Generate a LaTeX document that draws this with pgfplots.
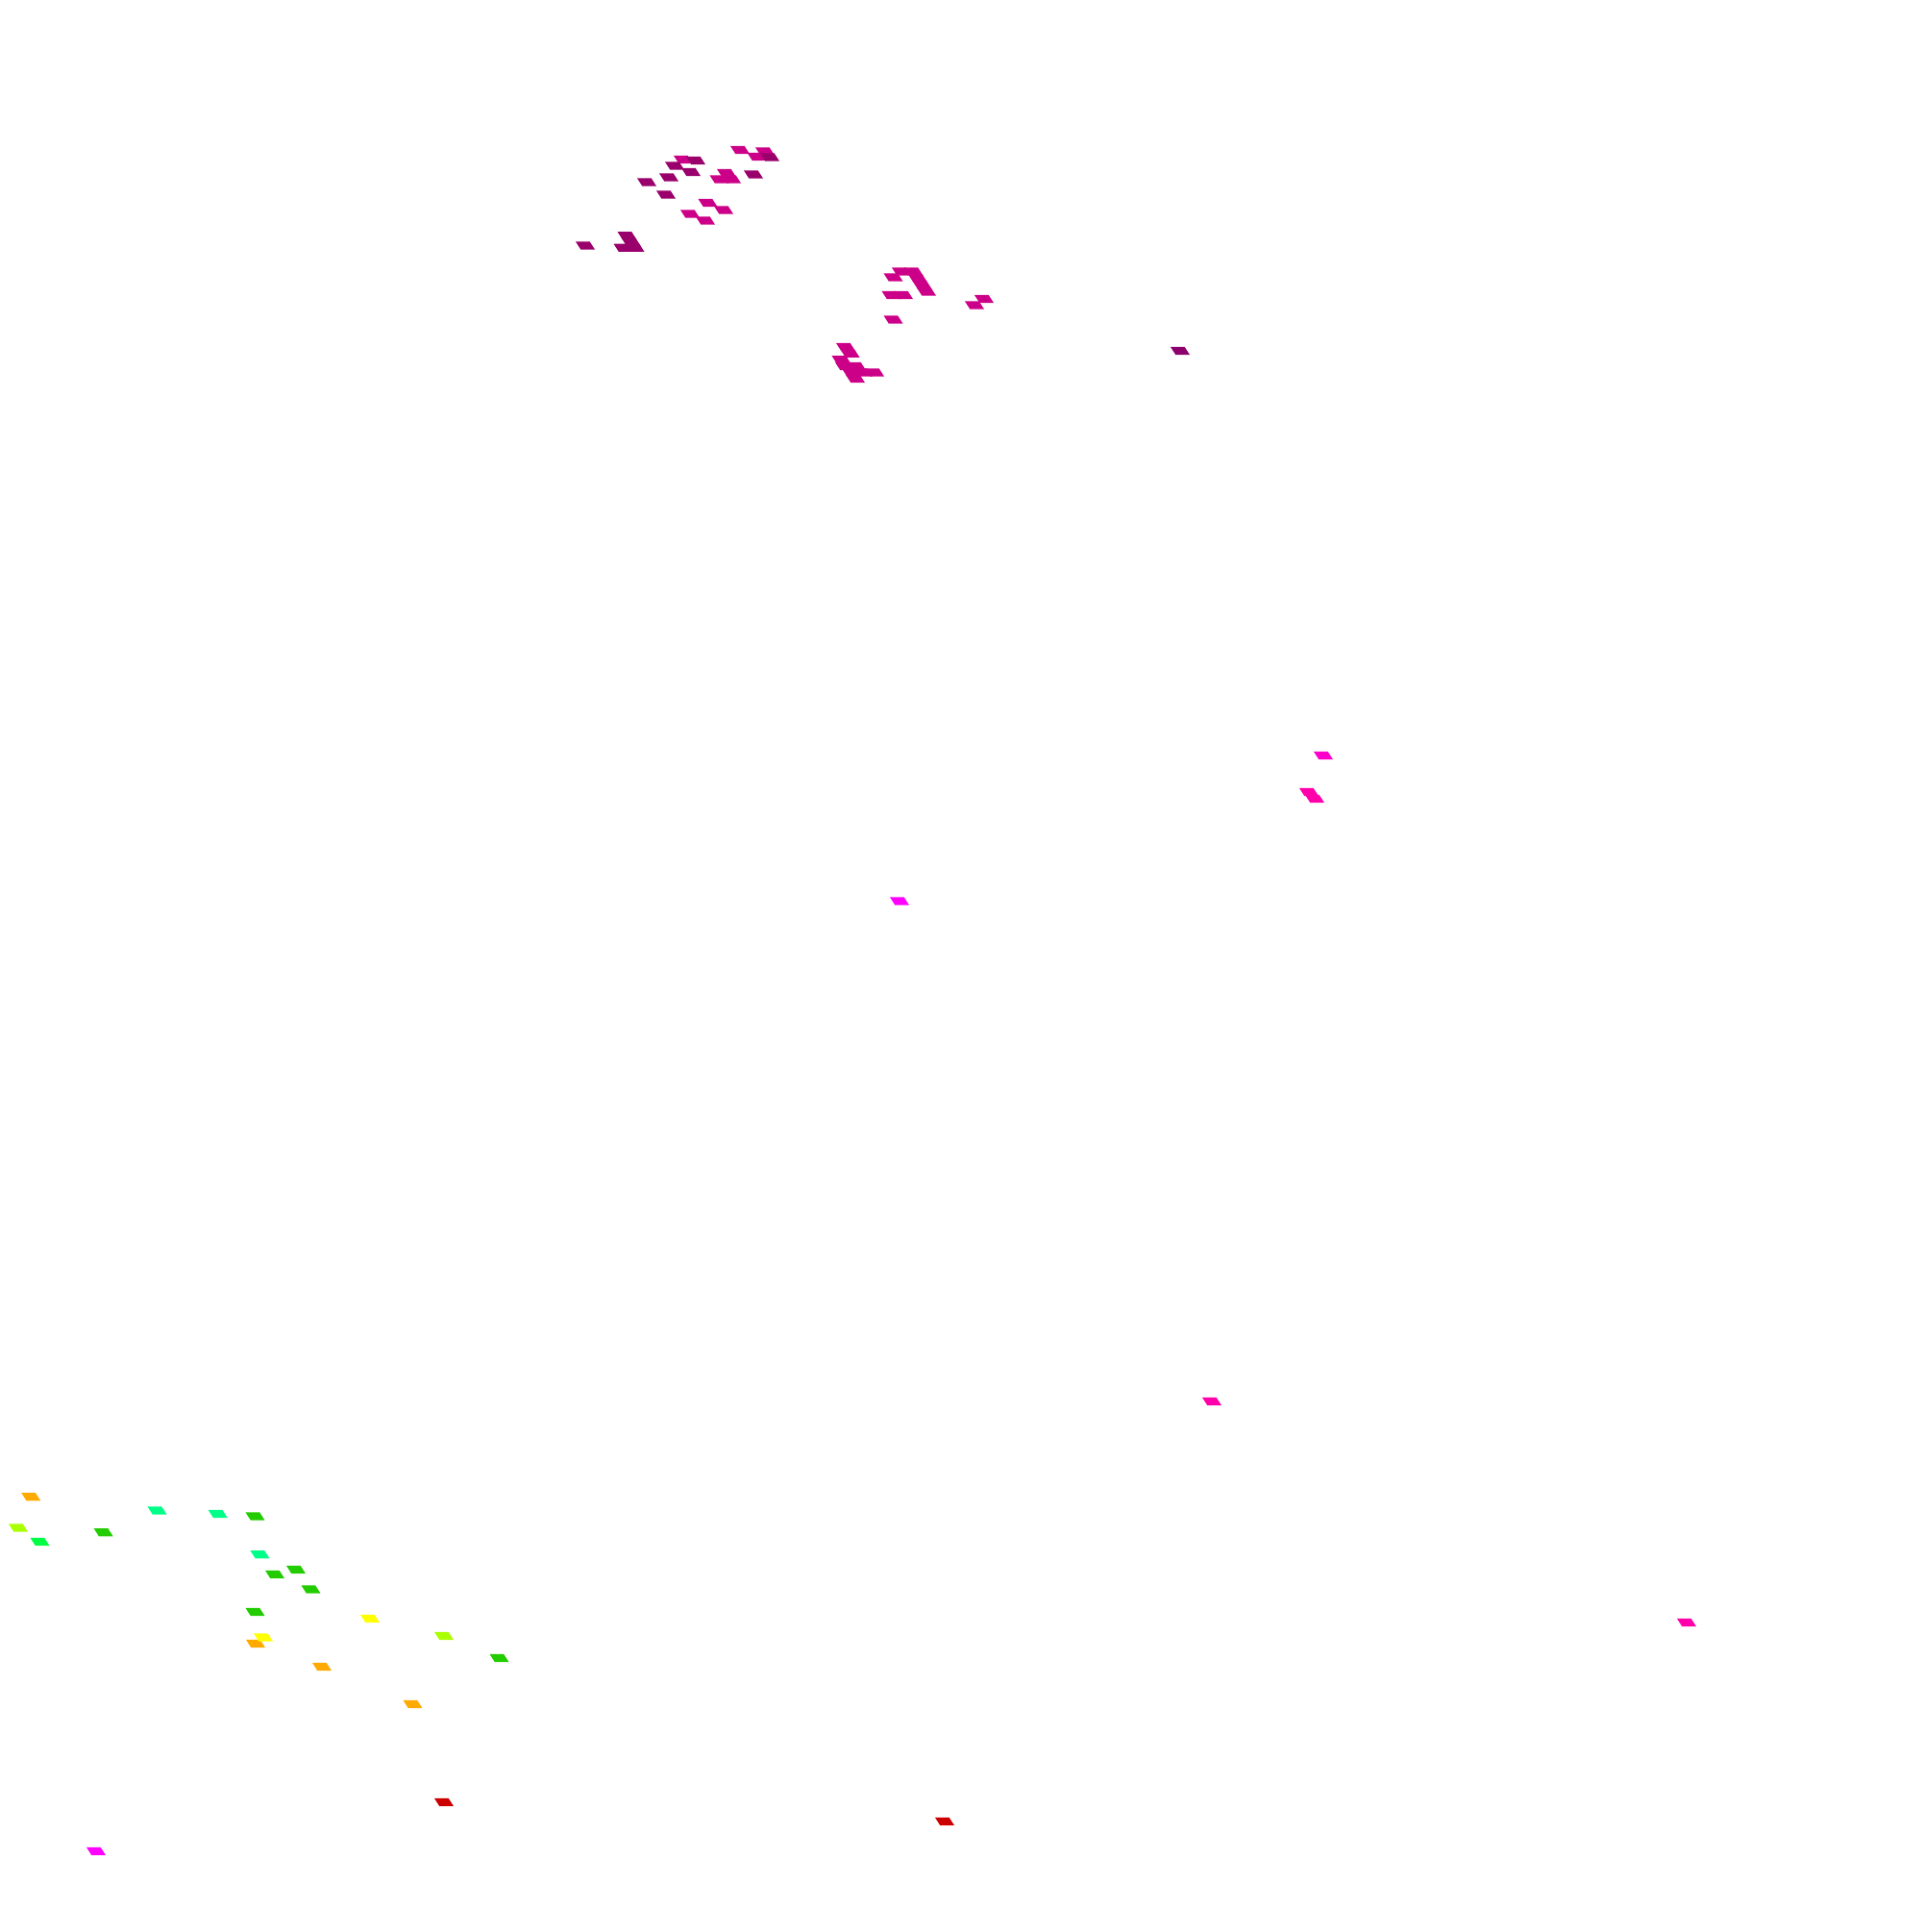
\documentclass[border=0pt]{standalone}
\usepackage{pgfplots}
\pgfplotsset{compat=1.18}

\definecolor{cBr}{HTML}{CC0088}
\definecolor{cDk}{HTML}{99006B}
\definecolor{cPu}{HTML}{8C006E}
\definecolor{cPk}{HTML}{FF00AA}
\definecolor{cPc}{HTML}{FF00CC}
\definecolor{cMg}{HTML}{FF00FF}
\definecolor{cRd}{HTML}{CC0000}
\definecolor{cOr}{HTML}{FFAA00}
\definecolor{cYe}{HTML}{FFFF00}
\definecolor{cYg}{HTML}{AAFF00}
\definecolor{cGr}{HTML}{22CC00}
\definecolor{cSp}{HTML}{00FF44}
\definecolor{cMi}{HTML}{00FF88}

% one surface cell seen in perspective: a sheared quad
\pgfdeclareplotmark{para}{%
  \pgfpathmoveto{\pgfpoint{-\pgfplotmarksize}{0.412\pgfplotmarksize}}%
  \pgfpathlineto{\pgfpoint{0.47\pgfplotmarksize}{0.412\pgfplotmarksize}}%
  \pgfpathlineto{\pgfpoint{\pgfplotmarksize}{-0.412\pgfplotmarksize}}%
  \pgfpathlineto{\pgfpoint{-0.47\pgfplotmarksize}{-0.412\pgfplotmarksize}}%
  \pgfpathclose
  \pgfusepathqfill}

\pgfplotsset{
  cells/.style={scatter, only marks, mark=para,
    visualization depends on={1.7*\thisrow{s} \as \ms},
    scatter/@pre marker code/.append style={/tikz/mark size=\ms},
    scatter/use mapped color={draw=none, fill=#1}},
}

\begin{document}
\begin{tikzpicture}
\begin{axis}[
    width=400pt, height=402pt, scale only axis,
    hide axis,
    xmin=0, xmax=2000, ymin=0, ymax=2010,
    y dir=reverse,
    ]
    \path (rel axis cs:0,0) rectangle (rel axis cs:1,1);

    % top cluster, bright cells
    \addplot[cells=cBr] table[row sep=\\] {
        x y s \\
        770 156 0.95 \\ 796 157.5 0.95 \\ 787.5 163 0.95 \\ 711 166 0.95 \\
        756 180 0.95 \\ 748.5 186.5 0.95 \\ 761 186.5 0.95 \\
        736.5 211 0.95 \\ 753 218.5 0.95 \\ 718 222.5 0.95 \\ 734 229.5 0.95 \\
    };
    % top cluster, dark cells
    \addplot[cells=cDk] table[row sep=\\] {
        x y s \\
        801 163.5 0.95 \\ 724 167 0.95 \\ 702 172.5 0.95 \\ 719 179 0.95 \\
        784 181.5 0.95 \\ 696 184.5 0.95 \\ 673 189.5 0.95 \\ 693 202.5 0.95 \\
        609 255.5 0.95 \\ 652.5 245.2 0.95 \\ 656.5 251.5 0.95 \\
        660.5 257.8 0.95 \\ 648.5 257.8 0.95 \\
    };
    % middle cluster
    \addplot[cells=cBr] table[row sep=\\] {
        x y s \\
        929.5 288.5 1 \\ 938 282.5 1 \\ 950.5 282.5 1 \\ 955 289.5 1 \\
        959.5 296.5 1 \\ 964 303.5 1 \\ 927.5 307 1 \\ 940 307 1 \\
        929.5 332.5 1 \\ 1024 311 1 \\ 1014 317.5 1 \\
        880 361 1 \\ 884.5 367.7 1 \\ 875.5 374.3 1 \\ 879 381 1 \\ 891 381 1 \\
        886 387.5 1 \\ 898 387.5 1 \\ 910 387.5 1 \\ 890 394 1 \\
    };
    \addplot[cells=cPu] table[row sep=\\] {
        x y s \\
        1228 365 1.03 \\
    };
    \addplot[cells=cPc] table[row sep=\\] {
        x y s \\
        1377 786 1.1 \\
    };
    \addplot[cells=cPk] table[row sep=\\] {
        x y s \\
        1362 824 1.1 \\ 1368 831 1.1 \\ 1261 1458 1.22 \\ 1755 1688 1.45 \\
    };
    \addplot[cells=cMg] table[row sep=\\] {
        x y s \\
        936 937.5 1.08 \\ 100 1926 0.97 \\
    };
    % lower left group
    \addplot[cells=cOr] table[row sep=\\] {
        x y s \\
        32.3 1557.3 1 \\ 266 1710 1.05 \\ 335 1734 1.05 \\ 429.5 1773 1.08 \\
    };
    \addplot[cells=cYg] table[row sep=\\] {
        x y s \\
        19 1589.5 0.97 \\ 462 1702 1.08 \\
    };
    \addplot[cells=cSp] table[row sep=\\] {
        x y s \\
        41.5 1604 1 \\
    };
    \addplot[cells=cMi] table[row sep=\\] {
        x y s \\
        163.5 1571.5 1 \\ 226.7 1575 1 \\ 270.5 1617.3 1 \\
    };
    \addplot[cells=cGr] table[row sep=\\] {
        x y s \\
        107.7 1594.3 1 \\ 265.5 1577.5 1 \\ 286 1638 1.05 \\ 308 1633 1.05 \\
        323.5 1653.5 1.05 \\ 265.5 1677 1.05 \\ 519.5 1725 1.1 \\
    };
    \addplot[cells=cYe] table[row sep=\\] {
        x y s \\
        274 1703.5 1.05 \\ 385 1684 1.05 \\
    };
    \addplot[cells=cRd] table[row sep=\\] {
        x y s \\
        462 1875 1.12 \\ 983 1895 1.18 \\
    };
\end{axis}
\end{tikzpicture}
\end{document}
